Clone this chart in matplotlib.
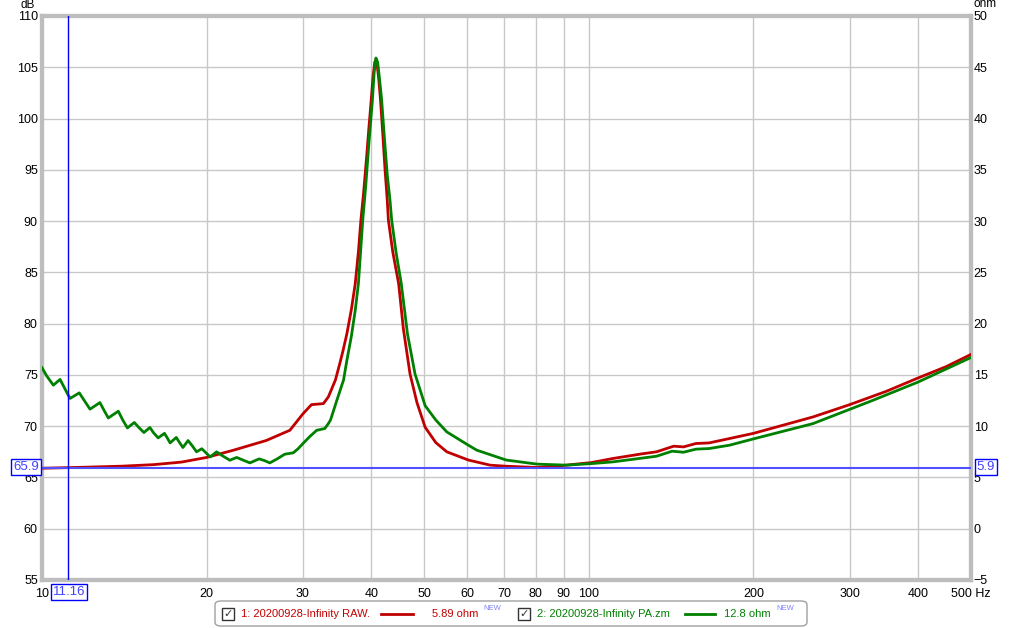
import matplotlib.pyplot as plt
from matplotlib.patches import FancyBboxPatch, Rectangle
from matplotlib.lines import Line2D

plt.rcParams['font.family'] = ['Liberation Sans', 'DejaVu Sans']

# impedance readings (Hz, ohm)
raw_freq = [10, 11, 12, 14, 16, 18, 20, 22.4, 25.7, 28.4, 30, 31.1, 32.7, 33.4,
            34.4, 35.0, 35.5, 36.1, 36.8, 37.4, 37.9, 38.3, 38.7, 39.2, 39.6, 40.0,
            40.3, 40.6, 40.8, 41.0, 41.3, 41.6, 42.0, 42.4, 42.8, 43.0, 43.8, 44.9,
            45.8, 47.1, 48.5, 50.2, 52.5, 55, 60.2, 66, 70.3, 80.4, 91, 101, 110.7,
            125, 133, 143, 149, 157, 166, 181, 200, 257, 300, 350, 400, 450, 500]
raw_ohm = [5.9, 5.95, 6.0, 6.1, 6.25, 6.5, 6.95, 7.66, 8.6, 9.6, 11.2, 12.1, 12.2, 12.86,
           14.5, 16.0, 17.3, 19.0, 21.4, 23.9, 27.0, 30.1, 32.5, 36.0, 39.0, 41.8,
           44.0, 45.5, 45.7, 45.3, 43.8, 41.8, 38.5, 35.0, 32.0, 30.1, 27.0, 23.9,
           19.5, 15.1, 12.3, 9.9, 8.4, 7.5, 6.7, 6.2, 6.1, 5.97, 6.2, 6.45, 6.85,
           7.3, 7.5, 8.05, 7.98, 8.31, 8.37, 8.8, 9.3, 10.9, 12.1, 13.4, 14.7, 15.8, 17.0]

pa_freq = [10, 10.2, 10.49, 10.79, 11.0, 11.25, 11.7, 11.95, 12.24, 12.76, 13.0, 13.22,
           13.79, 14.05, 14.33, 14.75, 15.05, 15.36, 15.75, 16.0, 16.31, 16.75, 16.95,
           17.15, 17.6, 17.85, 18.1, 18.5, 18.85, 19.17, 19.6, 19.95, 20.3, 20.86, 21.4,
           22.06, 22.7, 23.3, 24.0, 24.95, 25.5, 26.1, 26.9, 27.8, 28.8, 29.4, 30.0,
           30.9, 31.8, 32.9, 33.4, 33.7, 34.6, 35.6, 36.1, 36.8, 37.4, 37.9, 38.6, 39.1,
           39.6, 40.2, 40.5, 40.8, 41.1, 41.4, 41.8, 42.3, 42.8, 43.3, 43.6, 44.4, 45.4,
           46.6, 48.1, 50.2, 52.5, 55, 60.2, 62.4, 70.6, 80.4, 91, 101, 110.7,
           133, 142, 149, 157, 166, 181, 200, 257, 330, 400, 500]
pa_ohm = [15.7, 14.9, 14.0, 14.56, 13.7, 12.7, 13.25, 12.5, 11.66, 12.3, 11.5, 10.8,
          11.46, 10.6, 9.83, 10.36, 9.85, 9.38, 9.87, 9.35, 8.86, 9.3, 8.85,
          8.37, 8.9, 8.4, 7.92, 8.6, 8.05, 7.5, 7.8, 7.4, 7.0, 7.5, 7.1,
          6.68, 6.95, 6.7, 6.42, 6.81, 6.65, 6.42, 6.8, 7.27, 7.4, 7.8, 8.3,
          9.0, 9.6, 9.77, 10.26, 10.6, 12.5, 14.5, 16.4, 18.8, 21.3, 23.9, 30.1, 33.5,
          37.5, 41.8, 44.5, 45.9, 45.5, 44.0, 41.8, 38.0, 34.5, 32.0, 30.1, 27.0, 23.9,
          19.0, 15.1, 12.0, 10.6, 9.44, 8.15, 7.66, 6.7, 6.3, 6.2, 6.35, 6.52,
          7.07, 7.56, 7.46, 7.76, 7.82, 8.15, 8.76, 10.25, 12.5, 14.3, 16.7]

x_ticks = [10, 20, 30, 40, 50, 60, 70, 80, 90, 100, 200, 300, 400, 500]
x_labels = ['10', '20', '30', '40', '50', '60', '70', '80', '90', '100', '200', '300', '400', '500 Hz']

RED = '#c00000'
GREEN = '#008000'
W, H = 1024, 628

fig = plt.figure(figsize=(W / 100, H / 100), dpi=100)
ax = fig.add_axes([42 / W, 1 - 580 / H, 929 / W, 564 / H])
ax2 = ax.twinx()

ax.set_xscale('log')
ax.set_xlim(10, 500)
ax.set_ylim(55, 110)
ax2.set_ylim(-5, 50)
ax.set_yticks(range(55, 111, 5))
ax2.set_yticks(range(-5, 51, 5))
ax.set_xticks(x_ticks)
ax.set_xticklabels(x_labels)
ax.minorticks_off()
ax.grid(True, color='#c8c8c8', linewidth=1)
ax.tick_params(axis='y', length=0, labelsize=9, pad=3)
ax.tick_params(axis='x', length=0, labelsize=9, pad=6)
ax2.tick_params(length=0, labelsize=9, pad=2)
for a in (ax, ax2):
    for s in a.spines.values():
        s.set_color('#bdbdbd')
        s.set_linewidth(3)

ax2.plot(raw_freq, raw_ohm, color=RED, linewidth=2, zorder=3, solid_joinstyle='round')
ax2.plot(pa_freq, pa_ohm, color=GREEN, linewidth=2, zorder=4, solid_joinstyle='round')
ax2.axhline(5.9, color='#5050ff', linewidth=1.5, zorder=5)
ax2.axvline(11.16, color='#0000ff', linewidth=1, zorder=5)

fig.text(28 / W, 1 - 5 / H, 'dB', fontsize=8.5, ha='center', va='center')
fig.text(985 / W, 1 - 4 / H, 'ohm', fontsize=8.5, ha='center', va='center')

box = dict(boxstyle='square,pad=0.15', fc='white', ec='#0000ff', lw=1)
fig.text(26 / W, 1 - 467 / H, '65.9', fontsize=9.5, color='#4040ff', ha='center', va='center', bbox=box)
fig.text(986 / W, 1 - 467 / H, '5.9', fontsize=9.5, color='#4040ff', ha='center', va='center', bbox=box)
fig.text(69 / W, 1 - 592 / H, '11.16', fontsize=9.5, color='#4040ff', ha='center', va='center', bbox=box)

# legend strip
fig.patches.append(FancyBboxPatch((215 / W, 1 - 626 / H), 592 / W, 25 / H,
                                  boxstyle='round,pad=0,rounding_size=0.006',
                                  transform=fig.transFigure, fc='white', ec='#a0a0a0', lw=1))
ly = 1 - 614 / H
for cx in (228, 524):
    fig.patches.append(Rectangle(((cx - 6) / W, ly - 6 / H), 12 / W, 12 / H,
                                 transform=fig.transFigure, fc='white', ec='#333333', lw=1))
    fig.text(cx / W, ly, '✓', family='DejaVu Sans', fontsize=8, ha='center', va='center', color='#333333')
fig.text(241 / W, ly, '1: 20200928-Infinity RAW.', fontsize=8, color=RED, va='center')
fig.lines.append(Line2D([381 / W, 413 / W], [ly, ly], transform=fig.transFigure, color=RED, lw=2))
fig.text(432 / W, ly, '5.89 ohm', fontsize=8, color=RED, va='center')
fig.text(483 / W, ly + 5 / H, 'NEW', fontsize=5.5, color='#8080ff', va='center')
fig.text(537 / W, ly, '2: 20200928-Infinity PA.zm', fontsize=8, color=GREEN, va='center')
fig.lines.append(Line2D([685 / W, 715 / W], [ly, ly], transform=fig.transFigure, color=GREEN, lw=2))
fig.text(724 / W, ly, '12.8 ohm', fontsize=8, color=GREEN, va='center')
fig.text(776 / W, ly + 5 / H, 'NEW', fontsize=5.5, color='#8080ff', va='center')

fig.savefig('out.png', dpi=100)
